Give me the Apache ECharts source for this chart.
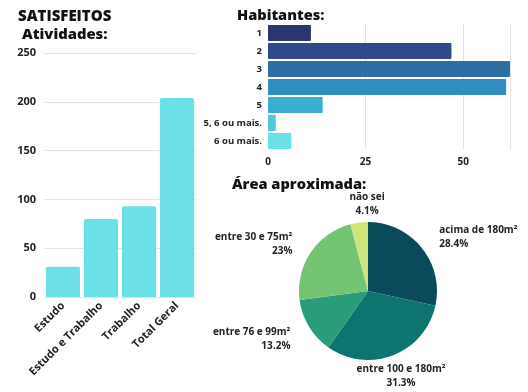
<!DOCTYPE html>
<html><head><meta charset="utf-8">
<script src="https://cdn.jsdelivr.net/npm/echarts@6/dist/echarts.min.js"></script>
<style>html,body{margin:0;padding:0;background:#fff}#c{width:528px;height:392px}</style>
</head><body><div id="c"></div>
<script>
const actCategories = ['Estudo', 'Estudo e Trabalho', 'Trabalho', 'Total Geral'];
const actValues = [31, 80, 93, 204];
const actTicks = [0, 50, 100, 150, 200, 250];

const habCategories = ['1', '2', '3', '4', '5', '5, 6 ou mais.', '6 ou mais.'];
const habValues = [11, 47, 62, 61, 14, 2, 6];
const habColors = ['#2b3670', '#2f4a8a', '#2d6ea6', '#2f8dbf', '#3aaed0', '#50c8d8', '#6be0e6'];

const areaNames = ['acima de 180m²', 'entre 100 e 180m²', 'entre 76 e 99m²', 'entre 30 e 75m²', 'não sei'];
const areaValues = [28.4, 31.3, 13.2, 23, 4.1];
const areaColors = ['#0b4a5a', '#0e7470', '#2a9c7a', '#74c473', '#cde67a'];

const F = 'Open Sans';
const W = 800;
const chart = echarts.init(document.getElementById('c'));
chart.setOption({
  backgroundColor: '#fff',
  textStyle: { fontFamily: F },
  title: [
    { text: 'SATISFEITOS', left: 13, top: 4, textStyle: { fontFamily: F, fontSize: 15, fontWeight: W, color: '#111' } },
    { text: 'Atividades:', left: 17, top: 22, textStyle: { fontFamily: F, fontSize: 14.8, fontWeight: W, color: '#111' } },
    { text: 'Habitantes:', left: 232, top: 3, textStyle: { fontFamily: F, fontSize: 14.6, fontWeight: W, color: '#111' } },
    { text: 'Área aproximada:', left: 227, top: 172, textStyle: { fontFamily: F, fontSize: 14.6, fontWeight: W, color: '#111' } }
  ],
  grid: [
    { left: 44, right: 332, top: 53, bottom: 95 },
    { left: 268, right: 18, top: 24, bottom: 242 }
  ],
  xAxis: [
    { gridIndex: 0, type: 'category', data: actCategories,
      axisLine: { show: false }, axisTick: { show: false },
      axisLabel: { rotate: 45, interval: 0, fontFamily: F, fontSize: 11, fontWeight: 'bold', color: '#222', margin: 7 } },
    { gridIndex: 1, type: 'value', min: 0, max: 62, interval: 25,
      axisLine: { show: false }, axisTick: { show: false },
      axisLabel: { showMaxLabel: false, fontFamily: F, fontSize: 10, fontWeight: 'bold', color: '#222', margin: 7 },
      splitLine: { lineStyle: { color: '#e3e3e3' } } }
  ],
  yAxis: [
    { gridIndex: 0, type: 'value', min: actTicks[0], max: actTicks[actTicks.length - 1], interval: 50,
      axisLine: { show: false }, axisTick: { show: false },
      axisLabel: { fontFamily: F, fontSize: 11, fontWeight: 'bold', color: '#222', margin: 8 },
      splitLine: { lineStyle: { color: '#e3e3e3' } } },
    { gridIndex: 1, type: 'category', data: habCategories, inverse: true,
      axisLine: { show: false }, axisTick: { show: false },
      axisLabel: { fontFamily: F, fontSize: 9.5, fontWeight: 'bold', color: '#222', margin: 6 } }
  ],
  series: [
    { type: 'bar', xAxisIndex: 0, yAxisIndex: 0, data: actValues, barCategoryGap: '10%',
      itemStyle: { color: '#6be0e6', borderRadius: [2, 2, 0, 0] } },
    { type: 'bar', xAxisIndex: 1, yAxisIndex: 1, barCategoryGap: '10%',
      data: habValues.map((v, i) => ({ value: v, itemStyle: { color: habColors[i] } })),
      itemStyle: { borderRadius: 1 } },
    { type: 'pie', center: [368, 291], radius: 69, startAngle: 90, clockwise: true,
      data: areaNames.map((n, i) => ({ name: n, value: areaValues[i], itemStyle: { color: areaColors[i] } })),
      label: { show: true, position: 'outside', formatter: p => p.name + '\n' + p.value + '%',
        fontFamily: F, fontSize: 10, fontWeight: 'bold', color: '#222', lineHeight: 14, align: 'center' },
      labelLine: { show: false, length: 16, length2: 0 },
      labelLayout: function (p) {
        const pts = p.labelLinePoints;
        if (!pts) return {};
        const a = pts[0], b = pts[pts.length - 1];
        const dx = b[0] - a[0], dy = b[1] - a[1];
        if (Math.abs(dx) < Math.abs(dy) * 0.6) {
          return { x: b[0] + (p.dataIndex === 4 ? 10 : 2), align: 'center', dy: dy < 0 ? -3 : 6 };
        }
        return { dy: dy > 0 ? 4 : 0 };
      },
      emphasis: { disabled: true } }
  ]
});
</script></body></html>
